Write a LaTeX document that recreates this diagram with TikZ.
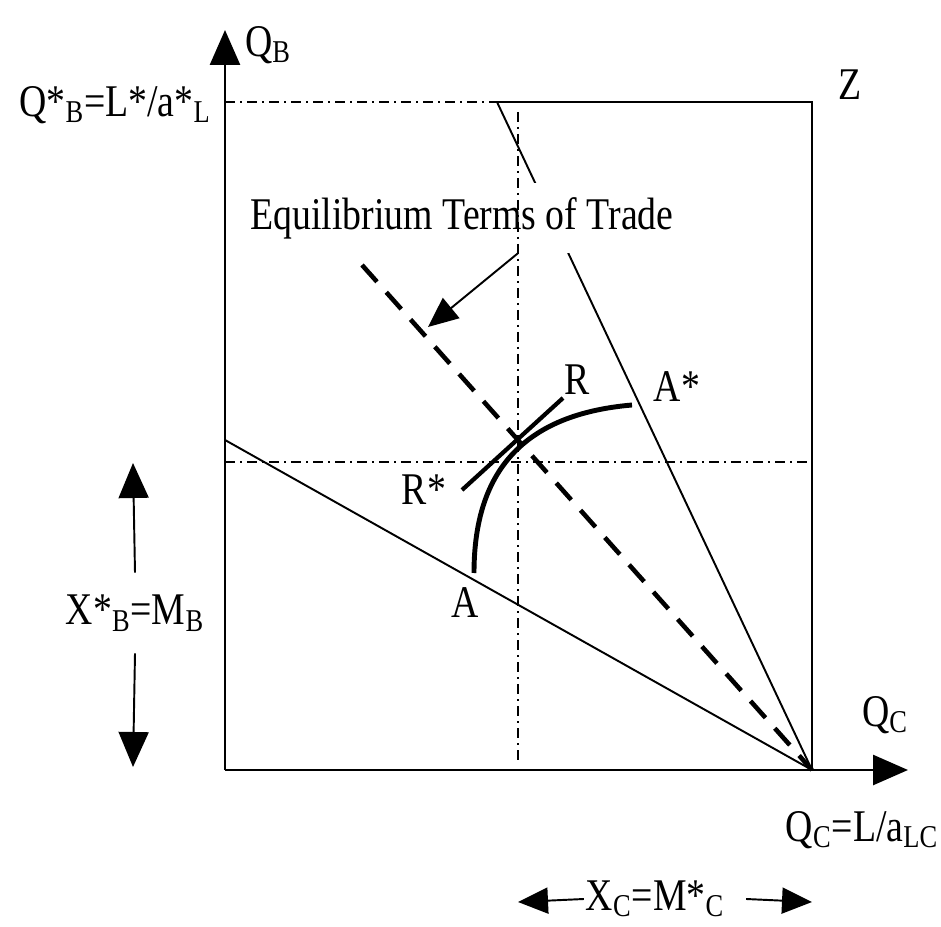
\documentclass[tikz,border=0pt]{standalone}
\usepackage{fontspec}
\setmainfont{Liberation Serif}
\usetikzlibrary{arrows.meta}
\newcommand{\tall}[1]{\scalebox{1}[1.2]{#1}}
\tikzset{
  lbl/.style={font=\fontsize{21.5}{26}\selectfont, inner sep=2pt},
  axis/.style={line width=1.5pt, -{Triangle[length=7mm, width=6mm]}},
  thinline/.style={line width=1.1pt},
  guide/.style={line width=1pt, dash pattern=on 2mm off 1mm on 0.4mm off 1mm},
  tot/.style={line width=2.6pt, dash pattern=on 4.5mm off 2.8mm},
  ppf/.style={line width=2.8pt},
  bigarrow/.style={line width=1.1pt, -{Triangle[length=7mm, width=6mm]}},
  smallarrow/.style={line width=1.1pt, -{Triangle[length=6mm, width=5.2mm]}}
}

\begin{document}
\begin{tikzpicture}[x=0.2mm, y=-0.2mm]
    \useasboundingbox (0,0) rectangle (941,927);

    % Points
    \coordinate (O) at (225,770);
    \coordinate (ytip) at (225,30);
    \coordinate (xtip) at (908,770);
    \coordinate (C) at (812,770);
    \coordinate (Z) at (812,102);
    \coordinate (T) at (497,102);
    \coordinate (Bh) at (225,102);
    \coordinate (Ml) at (225,440);
    \coordinate (Vt) at (518,112);
    \coordinate (Vb) at (518,765);
    \coordinate (Hl) at (225,462);
    \coordinate (Hr) at (812,462);
    \coordinate (Dt) at (362,265);
    \coordinate (A) at (474,573);
    \coordinate (As) at (632,405);
    \coordinate (Rs) at (462,490);
    \coordinate (R) at (563,398);
    \coordinate (ettip) at (428,327);
    \coordinate (xbt) at (133,463);
    \coordinate (xbb) at (133,767);
    \coordinate (xcl) at (518,902);
    \coordinate (xcr) at (812,902);

    % Box and axes
    \draw[thinline] (T) -- (Z) -- (C);
    \draw[axis] (O) -- (ytip);
    \draw[axis] (O) -- (xtip);

    % Production possibility lines
    \draw[thinline] (Ml) -- (C);
    \draw[thinline] (T) -- (C);

    % Label over the foreign line
    \node[lbl, fill=white, inner ysep=8pt] (ett) at (462,218) {\tall{Equilibrium Terms of Trade}};

    % Guides
    \draw[guide] (Bh) -- (T);
    \draw[guide] (Vt) -- (Vb);
    \draw[guide] (Hl) -- (Hr);

    % Terms of trade
    \draw[smallarrow] (ett.south -| Vt) -- (ettip);
    \draw[tot] (Dt) -- (C);

    % World PPF and tangent
    \draw[ppf] (A) .. controls (474,480) and (515,415) .. (As);
    \draw[line width=2.4pt] (Rs) -- (R);

    % Labels
    \node[lbl] (qb) at (268,45) {\tall{Q\textsubscript{B}}};
    \node[lbl] (qbs) at (115,105) {\tall{Q*\textsubscript{B}=L*/a*\textsubscript{L}}};
    \node[lbl] (z) at (850,85) {\tall{Z}};
    \node[lbl] (r) at (577,380) {\tall{R}};
    \node[lbl] (rs) at (424,490) {\tall{R*}};
    \node[lbl] (as) at (677,387) {\tall{A*}};
    \node[lbl] (a) at (465,603) {\tall{A}};
    \node[lbl] (qc) at (885,715) {\tall{Q\textsubscript{C}}};
    \node[lbl] (qcl) at (862,830) {\tall{Q\textsubscript{C}=L/a\textsubscript{LC}}};

    % Trade volumes
    \node[lbl, minimum height=16mm] (xb) at (135,613) {\tall{X*\textsubscript{B}=M\textsubscript{B}}};
    \draw[bigarrow] (xb.north) -- (xbt);
    \draw[bigarrow] (xb.south) -- (xbb);
    \node[lbl, inner xsep=1pt] (xc) at (655,899) {\tall{X\textsubscript{C}=M*\textsubscript{C}}};
    \draw[smallarrow] (xc.west) -- (xcl);
    \draw[smallarrow] ([xshift=4mm]xc.east) -- (xcr);
\end{tikzpicture}
\end{document}
